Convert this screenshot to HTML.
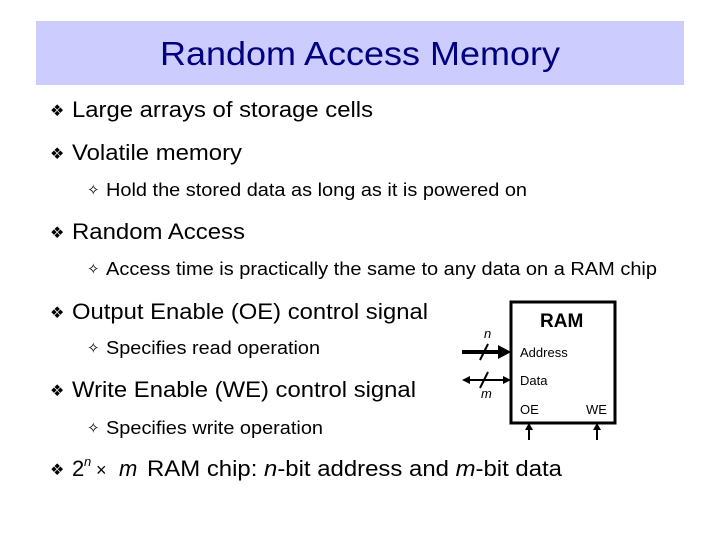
<!DOCTYPE html>
<html><head><meta charset="utf-8"><style>
html,body{margin:0;padding:0;background:#fff}
svg{display:block}
text{font-family:"Liberation Sans","DejaVu Sans",sans-serif;fill:#000}
</style></head><body>
<svg width="720" height="540" viewBox="0 0 720 540" xmlns="http://www.w3.org/2000/svg">
<rect x="36" y="21" width="648" height="64" fill="#ccccff"/>
<text x="160" y="65" font-size="33" style="fill:#000080" textLength="400" lengthAdjust="spacingAndGlyphs">Random Access Memory</text>

<g font-size="16">
<text x="50" y="116">❖</text>
<text x="50" y="159">❖</text>
<text x="50" y="238">❖</text>
<text x="50" y="318">❖</text>
<text x="50" y="396">❖</text>
<text x="50" y="475">❖</text>
</g>
<g font-size="22" lengthAdjust="spacingAndGlyphs">
<text x="72" y="117" textLength="301" lengthAdjust="spacingAndGlyphs">Large arrays of storage cells</text>
<text x="72" y="160" textLength="170" lengthAdjust="spacingAndGlyphs">Volatile memory</text>
<text x="72" y="239" textLength="173" lengthAdjust="spacingAndGlyphs">Random Access</text>
<text x="72" y="319" textLength="356" lengthAdjust="spacingAndGlyphs">Output Enable (OE) control signal</text>
<text x="72" y="397" textLength="344" lengthAdjust="spacingAndGlyphs">Write Enable (WE) control signal</text>
<text x="72" y="476">2</text>
<text x="84" y="466" font-size="13" font-style="italic">n</text>
<text x="96" y="476" font-size="18">×</text>
<text x="119" y="476" font-style="italic">m</text>
<text x="147" y="476" textLength="415" lengthAdjust="spacingAndGlyphs">RAM chip: <tspan font-style="italic">n</tspan>-bit address and <tspan font-style="italic">m</tspan>-bit data</text>
</g>
<g font-size="15">
<text x="87" y="195">✧</text>
<text x="87" y="274">✧</text>
<text x="87" y="353">✧</text>
<text x="87" y="433">✧</text>
</g>
<g font-size="18">
<text x="106" y="196" textLength="421" lengthAdjust="spacingAndGlyphs">Hold the stored data as long as it is powered on</text>
<text x="106" y="275" textLength="551" lengthAdjust="spacingAndGlyphs">Access time is practically the same to any data on a RAM chip</text>
<text x="106" y="354" textLength="214" lengthAdjust="spacingAndGlyphs">Specifies read operation</text>
<text x="106" y="434" textLength="217" lengthAdjust="spacingAndGlyphs">Specifies write operation</text>
</g>

<!-- RAM chip -->
<rect x="511" y="302" width="104" height="121" fill="#fff" stroke="#000" stroke-width="3"/>
<text x="540" y="327" font-size="19" font-weight="bold">RAM</text>
<text x="520" y="357" font-size="13">Address</text>
<text x="520" y="385" font-size="13">Data</text>
<text x="520" y="414" font-size="13">OE</text>
<text x="586" y="414" font-size="13">WE</text>
<text x="484" y="338" font-size="13" font-style="italic">n</text>
<text x="481" y="398" font-size="13" font-style="italic">m</text>
<line x1="462" y1="352" x2="500" y2="352" stroke="#000" stroke-width="4"/>
<polygon points="498,345 511,352 498,359" fill="#000"/>
<line x1="480" y1="360" x2="488" y2="344" stroke="#000" stroke-width="2"/>
<line x1="468" y1="380" x2="504" y2="380" stroke="#000" stroke-width="2"/>
<polygon points="462,380 470,376 470,384" fill="#000"/>
<polygon points="511,380 503,376 503,384" fill="#000"/>
<line x1="480" y1="388" x2="488" y2="372" stroke="#000" stroke-width="2"/>
<line x1="529" y1="440" x2="529" y2="428" stroke="#000" stroke-width="2"/>
<polygon points="525,430 529,423 533,430" fill="#000"/>
<line x1="597" y1="440" x2="597" y2="428" stroke="#000" stroke-width="2"/>
<polygon points="593,430 597,423 601,430" fill="#000"/>
</svg>
</body></html>
